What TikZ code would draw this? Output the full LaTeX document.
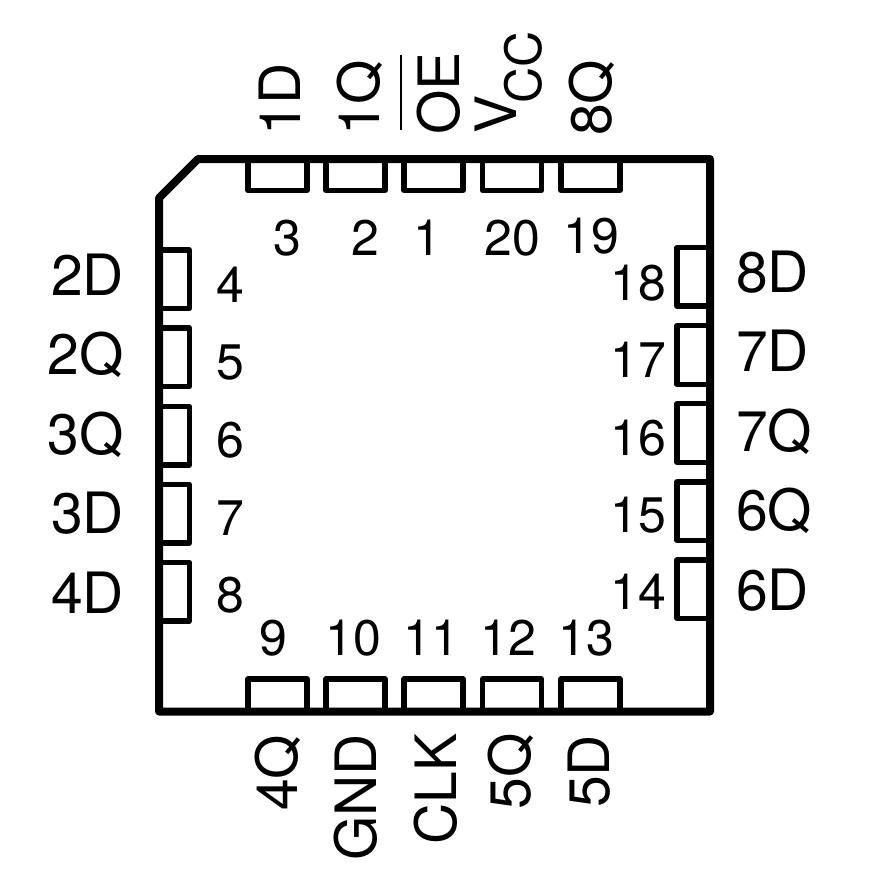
\documentclass[tikz,border=0pt]{standalone}
\usepackage{fontspec}
\setmainfont{TeX Gyre Heros}
\begin{document}
\begin{tikzpicture}[x=1pt,y=-1pt,
  outline/.style={line width=8pt,line join=round,line cap=round},
  padbox/.style={line width=5.2pt,line join=round},
  lbl/.style={font=\fontsize{57}{57}\selectfont,inner sep=0pt,anchor=base west},
  vlbl/.style={font=\fontsize{57}{57}\selectfont,inner sep=0pt,rotate=90,anchor=base west},
  num/.style={font=\fontsize{50}{50}\selectfont,inner sep=0pt,anchor=base}]
\useasboundingbox (0,0) rectangle (868,886);
\foreach \x in {248,326,404,482.5,561}{
  \draw[padbox] (\x,159) rectangle ++(59,31.5);
  \draw[padbox] (\x,711.5) rectangle ++(59,-32.5);}
\foreach \y in {250,328,406.5,484.5,562.5}{
  \draw[padbox] (159,\y) rectangle ++(30.5,58.5);}
\foreach \y in {247.5,325.7,403.7,482,560}{
  \draw[padbox] (710,\y) rectangle ++(-33,58.5);}
\draw[outline] (198,159) -- (710,159) -- (710,711.5) -- (159,711.5) -- (159,198) -- cycle;
\node[num] (n3) at (287.5,255) {3};
\node[num] (n2) at (365,255) {2};
\node[num] (n1) at (427,255) {1};
\node[num] (n20) at (512,255) {20};
\node[num] (n19) at (591,253.5) {19};
\node[num] (n4) at (230,302.5) {4};
\node[num] (n5) at (230,379.5) {5};
\node[num] (n6) at (230,457) {6};
\node[num] (n7) at (230,535) {7};
\node[num] (n8) at (230,612.5) {8};
\node[num] (n18) at (638,300.5) {18};
\node[num] (n17) at (638,377.5) {17};
\node[num] (n16) at (638,455) {16};
\node[num] (n15) at (638,532.5) {15};
\node[num] (n14) at (638,609.5) {14};
\node[num] (n9) at (273,655) {9};
\node[num] (n10) at (353,655) {10};
\node[num] (n11) at (431,655) {11};
\node[num] (n12) at (508,655) {12};
\node[num] (n13) at (586,655) {13};
\node[lbl] (l2d) at (51,295) {2D};
\node[lbl] (l2q) at (47.6,374.5) {2Q};
\node[lbl] (l3q) at (47.6,454) {3Q};
\node[lbl] (l3d) at (51,533.5) {3D};
\node[lbl] (l4d) at (51,613) {4D};
\node[lbl] (l8d) at (736,292) {8D};
\node[lbl] (l7d) at (736,371.5) {7D};
\node[lbl] (l7q) at (736,451) {7Q};
\node[lbl] (l6q) at (736,530.5) {6Q};
\node[lbl] (l6d) at (736,610) {6D};
\node[vlbl] (l1d) at (300.3,136) {1D};
\node[vlbl] (l1q) at (379.3,136) {1Q};
\node[vlbl] (loe) at (459.3,135) {OE};
\coordinate (oea) at (401,55);
\coordinate (oeb) at (401,130);
\draw[line width=2.7pt] (oea) -- (oeb);
\node[vlbl] (lvcc) at (516.7,134) {V\kern-8pt\raisebox{-25pt}{\fontsize{50}{50}\selectfont CC}};
\node[vlbl] (l8q) at (611,136) {8Q};
\node[vlbl] (l4q) at (297.3,811) {4Q};
\node[vlbl] (lgnd) at (376.7,861) {GND};
\node[vlbl] (lclk) at (456,845) {CLK};
\node[vlbl] (l5q) at (530,809.5) {5Q};
\node[vlbl] (l5d) at (609,808) {5D};
\end{tikzpicture}
\end{document}
